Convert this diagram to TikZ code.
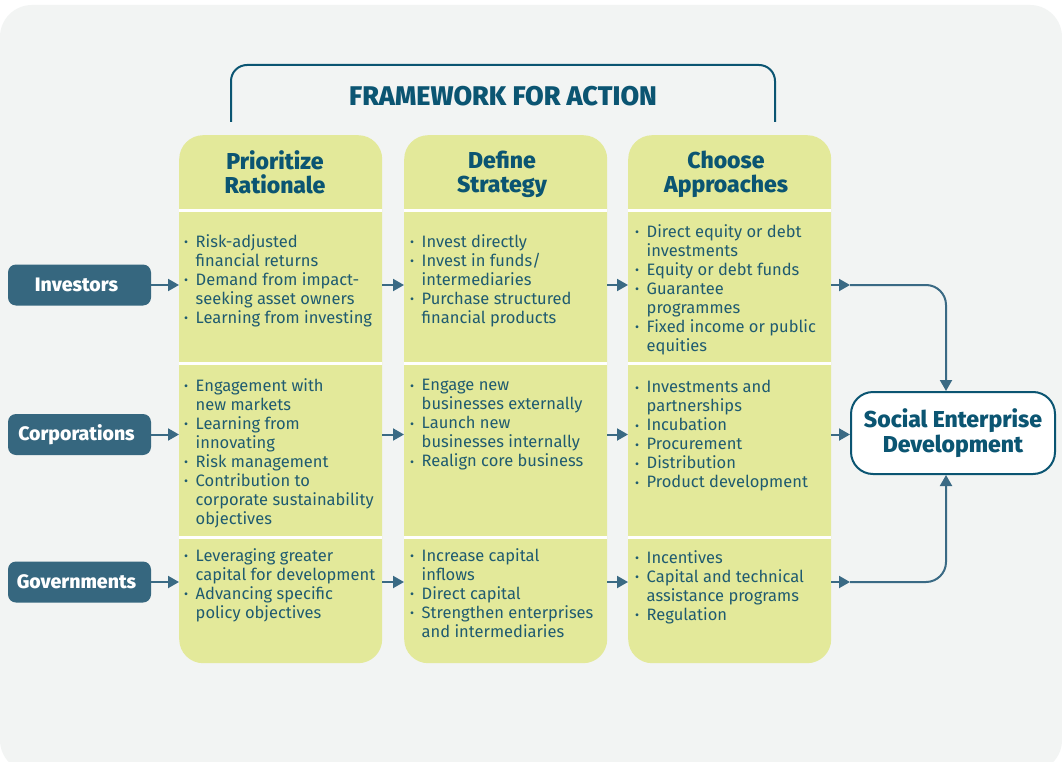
\documentclass[tikz,border=0pt]{standalone}
\usepackage{fontspec}
\setmainfont{Fira Sans}
\newfontfamily\heavy{Fira Sans ExtraBold}
\usepackage{graphicx}
\usetikzlibrary{arrows.meta,calc}
\definecolor{bgc}{HTML}{F2F4F3}
\definecolor{colfill}{HTML}{E3E99A}
\definecolor{hdc}{HTML}{0B5572}
\definecolor{bodyc}{HTML}{1F5B70}
\definecolor{lblc}{HTML}{36677F}
\definecolor{arrc}{HTML}{3A6A84}
\newcommand\bl{\makebox[11.5pt][l]{\raisebox{0.5pt}{\scalebox{0.75}{•}}}}
\newcommand\ci{\hspace*{11.5pt}}
\begin{document}
\begin{tikzpicture}[x=1pt,y=-1pt,
  colbox/.style={fill=colfill, rounded corners=24pt, minimum width=203pt, minimum height=528pt, inner sep=0pt, anchor=north west},
  sepline/.style={white, line width=3pt},
  hdr/.style={font=\fontsize{23}{24}\selectfont\heavy, text=hdc, align=center, inner sep=0pt, anchor=north, execute at begin node={\rule{0pt}{20pt}}},
  txt/.style={anchor=north west, inner sep=0pt, align=left, font=\fontsize{16.5}{19}\selectfont, text=bodyc, execute at begin node=\strut},
  lbl/.style={fill=lblc, rounded corners=8pt, minimum width=143pt, minimum height=41pt, inner sep=0pt, text=white, font=\fontsize{19.5}{20}\selectfont\heavy, execute at begin node={\hspace*{-6pt}}},
  arr/.style={draw=arrc, line width=2pt, -{Triangle[length=11pt,width=12pt]}},
  tgt/.style={draw=hdc, line width=2pt, fill=white, rounded corners=22pt, minimum width=204pt, minimum height=82pt, inner sep=0pt, align=center, text=hdc, font=\fontsize{23}{25}\selectfont\heavy}
]
\fill[white] (0,0) rectangle (1062,762);
\useasboundingbox (0,0) rectangle (1062,762);
\fill[bgc, rounded corners=32pt] (0,5) rectangle (1062,772);

% bracket and title
\draw[hdc, line width=2pt, rounded corners=16pt] (231,122) -- (231,65) -- (775,65) -- (775,122);
\node[font=\fontsize{27}{28}\selectfont\heavy, text=hdc, inner sep=0pt] (title) at (503,96) {FRAMEWORK FOR ACTION};

% columns
\node[colbox] (col1) at (179,135) {};
\node[colbox] (col2) at (404,135) {};
\node[colbox] (col3) at (628,135) {};
\foreach \yy in {210,363,537}{
  \draw[sepline] (179,\yy) -- (382,\yy);
  \draw[sepline] (404,\yy) -- (607,\yy);
  \draw[sepline] (628,\yy) -- (831,\yy);
}

% headers
\node[hdr] (h1) at (275,150.5) {Prioritize\\Rationale};
\node[hdr] (h2) at (502,150.5) {Define\\Strategy};
\node[hdr] (h3) at (726,150.5) {Choose\\Approaches};

% row 1
\node[txt] (t11) at (184,234) {\bl Risk-adjusted\\\ci financial returns\\\bl Demand from impact-\\\ci seeking asset owners\\\bl Learning from investing};
\node[txt] (t12) at (410,234) {\bl Invest directly\\\bl Invest in funds/\\\ci intermediaries\\\bl Purchase structured\\\ci financial products};
\node[txt] (t13) at (635,224) {\bl Direct equity or debt\\\ci investments\\\bl Equity or debt funds\\\bl Guarantee\\\ci programmes\\\bl Fixed income or public\\\ci equities};
% row 2
\node[txt] (t21) at (184,378) {\bl Engagement with\\\ci new markets\\\bl Learning from\\\ci innovating\\\bl Risk management\\\bl Contribution to\\\ci corporate sustainability\\\ci objectives};
\node[txt] (t22) at (410,379) {\bl Engage new\\\ci businesses externally\\\bl Launch new\\\ci businesses internally\\\bl Realign core business};
\node[txt] (t23) at (635,380) {\bl Investments and\\\ci partnerships\\\bl Incubation\\\bl Procurement\\\bl Distribution\\\bl Product development};
% row 3
\node[txt] (t31) at (184,548) {\bl Leveraging greater\\\ci capital for development\\\bl Advancing specific\\\ci policy objectives};
\node[txt] (t32) at (410,548) {\bl Increase capital\\\ci inflows\\\bl Direct capital\\\bl Strengthen enterprises\\\ci and intermediaries};
\node[txt] (t33) at (635,550) {\bl Incentives\\\bl Capital and technical\\\ci assistance programs\\\bl Regulation};

% labels
\node[lbl] (inv) at (79.5,285) {Investors};
\node[lbl] (cor) at (79.5,434.5) {Corporations};
\node[lbl] (gov) at (79.5,582) {Governments};

% target
\node[tgt] (sed) at (953,433) {Social Enterprise\\Development};
\coordinate (sedtop) at ($(sed.north)+(-7,0)$);
\coordinate (sedbot) at ($(sed.south)+(-7,0)$);

% arrows
\foreach \r in {inv,cor,gov}{
  \draw[arr] (\r.east) -- (\r.east -| col1.west);
  \draw[arr] (\r.east -| col1.east) -- (\r.east -| col2.west);
  \draw[arr] (\r.east -| col2.east) -- (\r.east -| col3.west);
  \draw[arr] (\r.east -| col3.east) -- (\r.east -| sed.west);
}
\draw[arr, rounded corners=20pt] (inv.east -| sed.west) -| (sedtop);
\draw[arr, rounded corners=20pt] (gov.east -| sed.west) -| (sedbot);
\end{tikzpicture}
\end{document}
